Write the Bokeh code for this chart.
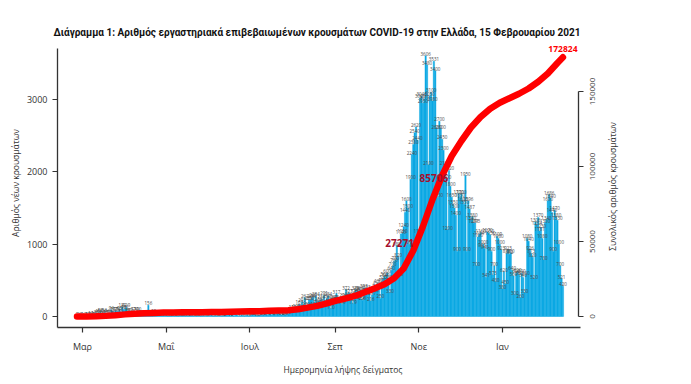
import math
import pandas as pd
from bokeh.plotting import figure
from bokeh.models import Range1d, FixedTicker, Label, ColumnDataSource
from bokeh.embed import file_html
from bokeh.resources import INLINE
from bokeh.core.properties import value

start_date = "2020-02-26"

# Daily new cases, by sample date
feb20 = [1, 2, 0, 3]
mar20 = [1, 0, 2, 3, 12, 5, 14, 11, 16, 10, 28, 45, 38, 58, 42, 35, 56, 31, 46, 31,
         35, 94, 71, 48, 78, 71, 74, 95, 55, 130, 98]
apr20 = [101, 129, 69, 60, 62, 20, 77, 52, 71, 56, 70, 33, 31, 25, 22, 15, 17, 156, 11, 10,
         7, 55, 27, 16, 11, 17, 32, 10, 15, 14]
may20 = [29, 7, 6, 10, 9, 3, 10, 16, 8, 6, 18, 12, 10, 14, 9, 16, 10, 23, 8, 15,
         10, 5, 8, 13, 3, 6, 9, 15, 3, 14, 9]
jun20 = [2, 15, 20, 7, 9, 14, 10, 5, 2, 7, 10, 12, 41, 16, 19, 20, 12, 30, 7, 15,
         21, 14, 4, 11, 19, 15, 6, 15, 18, 11]
jul20 = [8, 16, 23, 16, 24, 10, 13, 15, 28, 16, 21, 38, 27, 19, 42, 28, 20, 33, 31, 26,
         41, 49, 30, 21, 56, 24, 25, 37, 36, 57, 50]
aug20 = [110, 75, 110, 121, 86, 167, 124, 203, 103, 262, 150, 126, 228, 230, 254, 269, 151, 284, 168, 215,
         187, 236, 133, 291, 178, 250, 284, 224, 110, 179, 249]
sep20 = [243, 317, 220, 209, 189, 169, 274, 262, 372, 250, 327, 272, 245, 179, 326, 372, 345, 352, 363, 242,
         226, 393, 338, 383, 344, 328, 216, 297, 359, 338]
oct20 = [420, 460, 380, 250, 480, 520, 560, 540, 600, 520, 330, 640, 700, 760, 780, 980, 820, 560, 1140, 1150,
         1240, 1440, 1600, 1500, 1000, 1900, 2240, 2380, 2540, 2620, 2440]
nov20 = [1160, 3020, 3046, 2950, 3010, 3606, 3480, 2100, 3050, 3100, 2980, 3531, 3400, 2600, 1650, 2700, 2600, 2450, 2300, 2100,
         1900, 1200, 2020, 1800, 1650, 1550, 1500, 1400, 900, 1700]
dec20 = [1650, 1700, 1600, 1550, 1950, 900, 1596, 1487, 1340, 1380, 1291, 1295, 700, 1100, 1134, 1160, 963, 1000, 940, 541,
         1170, 1150, 1130, 900, 573, 700, 480, 1109, 1080, 1000, 923]
jan21 = [380, 620, 450, 873, 923, 862, 880, 640, 560, 300, 600, 620, 580, 260, 600, 540, 330, 580, 1080, 1040,
         926, 873, 820, 520, 1306, 1264, 1370, 1181, 1230, 1080, 780]
feb21 = [1300, 1340, 1600, 1686, 1640, 1440, 900, 1470, 1380, 1330, 1000, 700, 521, 420]

daily = feb20 + mar20 + apr20 + may20 + jun20 + jul20 + aug20 + sep20 + oct20 + nov20 + dec20 + jan21 + feb21

# Cumulative total
cum_dates = ["2020-02-26", "2020-03-04", "2020-03-11", "2020-03-18", "2020-03-25", "2020-04-01", "2020-04-08",
             "2020-04-15", "2020-04-22", "2020-04-29", "2020-05-06", "2020-05-13", "2020-05-20", "2020-05-27",
             "2020-06-03", "2020-06-10", "2020-06-17", "2020-06-24", "2020-07-01", "2020-07-08", "2020-07-15",
             "2020-07-22", "2020-07-29", "2020-08-05", "2020-08-12", "2020-08-19", "2020-08-26", "2020-09-02",
             "2020-09-09", "2020-09-16", "2020-09-23", "2020-09-30", "2020-10-07", "2020-10-14", "2020-10-21",
             "2020-10-28", "2020-11-04", "2020-11-11", "2020-11-18", "2020-11-25", "2020-12-02", "2020-12-09",
             "2020-12-16", "2020-12-23", "2020-12-30", "2021-01-06", "2021-01-13", "2021-01-20", "2021-01-27",
             "2021-02-03", "2021-02-10", "2021-02-14"]
cum_values = [0, 9, 99, 418, 821, 1415, 1884, 2192, 2408, 2591, 2663, 2760, 2850, 2892,
              2952, 3068, 3203, 3302, 3432, 3562, 3803, 4007, 4227, 4855, 5942, 7075, 8819, 10524,
              12080, 13850, 16286, 18886, 21500, 25500, 32000, 44000, 60000, 78000, 94000, 107000, 117000, 126000,
              133000, 138500, 142500, 145500, 148500, 152000, 156500, 162000, 169000, 172824]

month_ticks = ["2020-03-01", "2020-05-01", "2020-07-01", "2020-09-01", "2020-11-01", "2021-01-01"]
month_labels = ["Μαρ", "Μαΐ", "Ιουλ", "Σεπ", "Νοε", "Ιαν"]
left_ticks = [0, 1000, 2000, 3000]
right_ticks = [0, 50000, 100000, 150000]
right_tick_labels = ["0", "50000", "100000", "150000"]
milestone_labels = [("2020-10-18", 48700, "27271"), ("2020-11-12", 92000, "85706")]

title = "Διάγραμμα 1: Αριθμός εργαστηριακά επιβεβαιωμένων κρουσμάτων COVID-19 στην Ελλάδα, 15 Φεβρουαρίου 2021"
left_title = "Αριθμός νέων κρουσμάτων"
right_title = "Συνολικός αριθμός κρουσμάτων"
bottom_title = "Ημερομηνία λήψης δείγματος"

t0 = pd.Timestamp(start_date)
def dnum(s):
    return (pd.Timestamp(s) - t0).days

days = list(range(len(daily)))
cum_x = [dnum(s) for s in cum_dates]
tick_x = [dnum(s) for s in month_ticks]

BLUE = "#0DA9E4"
RED = "#FF0000"
FONT = "Open Sans"
AXC = "#333333"

# layout (pixels): plotting box 57..580 wide; frame extended to 628 to hold the right axis texts
W, H = 691, 384
FL, FR_AX, FR, FT, FB = 57, 580, 628, 38, 327
X0, X1 = -14.2, 366.8                       # data span of the 57..580 box
DPP = (X1 - X0) / (FR_AX - FL)              # days per pixel
XEND = X1 + (FR - FR_AX) * DPP

p = figure(width=W, height=H, output_backend="svg", toolbar_location=None,
           x_range=Range1d(X0, XEND), y_range=Range1d(-152, 3845),
           min_border_left=FL, min_border_right=W - FR, min_border_top=FT, min_border_bottom=H - FB)
p.outline_line_color = None
p.xgrid.visible = False
p.ygrid.visible = False
p.background_fill_color = "white"

p.title.text = title
p.title.text_font = "Roboto"
p.title.text_font_style = "bold"
p.title.text_font_size = "10px"
p.title.align = "left"
p.title.offset = -4
p.title.standoff = 2
p.title.text_color = "#111111"

p.extra_y_ranges = {"cum": Range1d(-7333, 185333)}

src = ColumnDataSource(dict(x=days, top=daily, lab=[str(v) for v in daily]))
p.vbar(x="x", top="top", width=1.0, source=src, fill_color=BLUE, line_color=BLUE, line_width=0.4)
p.text(x="x", y="top", text="lab", source=src, text_font=value(FONT), text_font_size="4.5px",
       text_color="#4A4A4A", text_align="center", text_baseline="bottom")

p.line(x=cum_x, y=cum_values, y_range_name="cum", line_color=RED, line_width=6.5,
       line_cap="round", line_join="round")

for ds, yv, txt in milestone_labels:
    p.add_layout(Label(x=dnum(ds), y=yv, y_range_name="cum", text=txt, text_color="#A50F2D",
                       text_font=FONT, text_font_size="10px", text_font_style="bold",
                       text_align="center", text_baseline="middle"))

p.add_layout(Label(x=cum_x[-1], y=cum_values[-1], y_range_name="cum", text=str(cum_values[-1]),
                   text_color=RED, text_font=FONT, text_font_size="8.5px", text_font_style="bold",
                   text_align="center", text_baseline="bottom", y_offset=5))

def style_axis(ax):
    ax.axis_line_color = AXC
    ax.axis_line_width = 1.3
    ax.major_tick_line_color = AXC
    ax.major_tick_line_width = 1.2
    ax.major_tick_out = 5
    ax.major_tick_in = 0
    ax.minor_tick_line_color = None
    ax.major_label_text_font = FONT
    ax.major_label_text_font_size = "9px"
    ax.major_label_text_color = AXC
    ax.axis_label_text_font = FONT
    ax.axis_label_text_font_size = "8.5px"
    ax.axis_label_text_font_style = "normal"
    ax.axis_label_text_color = AXC

ya = p.yaxis[0]
ya.ticker = FixedTicker(ticks=left_ticks)
ya.bounds = (-152, 3707)
ya.axis_label = left_title
style_axis(ya)
ya.major_label_standoff = 5
ya.axis_label_standoff = 3

xa = p.xaxis[0]
xa.ticker = FixedTicker(ticks=tick_x)
xa.bounds = (X0, X1)
xa.major_label_overrides = {t: l for t, l in zip(tick_x, month_labels)}
xa.axis_label = bottom_title
style_axis(xa)
xa.major_label_standoff = 7
xa.axis_label_standoff = 8

# right-hand (cumulative) axis, R style: line only over the tick span, labels read bottom to top
RX = X1 - 2 * DPP
p.segment(x0=[RX], y0=[right_ticks[0]], x1=[RX], y1=[right_ticks[-1]], y_range_name="cum",
          line_color=AXC, line_width=1.3)
p.segment(x0=[RX] * len(right_ticks), y0=right_ticks, x1=[RX + 5 * DPP] * len(right_ticks), y1=right_ticks,
          y_range_name="cum", line_color=AXC, line_width=1.2)
p.text(x=[RX] * len(right_ticks), y=right_ticks, text=right_tick_labels, y_range_name="cum",
       angle=math.pi / 2, x_offset=14, text_font=value(FONT), text_font_size="8px",
       text_color=AXC, text_align="center", text_baseline="middle")
p.text(x=[RX], y=[(right_ticks[0] + right_ticks[-1]) / 2 + 11700], text=[right_title], y_range_name="cum",
       angle=math.pi / 2, x_offset=34, text_font=value(FONT), text_font_size="8.5px",
       text_color=AXC, text_align="center", text_baseline="middle")

open("out.html", "w").write(file_html(p, INLINE))
